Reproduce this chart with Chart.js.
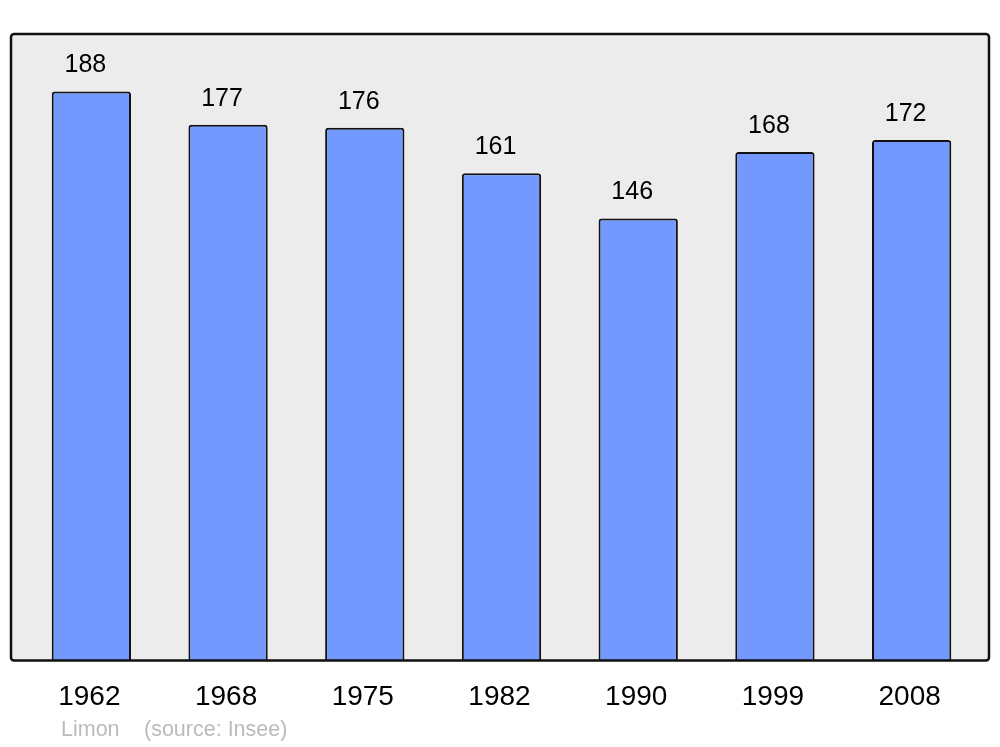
<!DOCTYPE html>
<html>
<head>
<meta charset="utf-8">
<script src="https://cdn.jsdelivr.net/npm/chart.js@4"></script>
<style>
  html, body { margin: 0; padding: 0; background: #fff; }
  #wrap { width: 1000px; height: 747px; }
</style>
</head>
<body>
<div id="wrap"><canvas id="chart" width="1000" height="747"></canvas></div>
<script>
const years = ["1962", "1968", "1975", "1982", "1990", "1999", "2008"];
const population = [188, 177, 176, 161, 146, 168, 172];
const townName = "Limon";
const sourceNote = "(source: Insee)";

const fontFamily = "'Liberation Sans', Arial, sans-serif";

// grey frame behind the bars
const framePlugin = {
  id: "frame",
  beforeDraw(chart) {
    const ctx = chart.ctx;
    const bottom = chart.chartArea.bottom;
    ctx.save();
    ctx.beginPath();
    ctx.roundRect(11, 34, 978, bottom - 34, 3);
    ctx.fillStyle = "#ececec";
    ctx.fill();
    ctx.restore();
  },
  afterDatasetsDraw(chart) {
    const ctx = chart.ctx;
    const bottom = chart.chartArea.bottom;
    ctx.save();
    ctx.beginPath();
    ctx.roundRect(11, 34, 978, bottom - 34, 3);
    ctx.lineWidth = 2.5;
    ctx.strokeStyle = "#111";
    ctx.stroke();
    ctx.restore();
  },
};

// value above every bar, and the footer line
const labelPlugin = {
  id: "labels",
  afterDraw(chart) {
    const ctx = chart.ctx;
    const meta = chart.getDatasetMeta(0);
    ctx.save();
    ctx.font = "25px " + fontFamily;
    ctx.fillStyle = "#000";
    ctx.textAlign = "center";
    ctx.textBaseline = "middle";
    meta.data.forEach((bar, i) => {
      ctx.fillText(String(population[i]), bar.x - 6, bar.y - 26);
    });
    ctx.font = "21.5px " + fontFamily;
    ctx.fillStyle = "#bbbbbb";
    ctx.textAlign = "left";
    ctx.fillText(townName, 61, 730);
    ctx.fillText(sourceNote, 144, 730);
    ctx.restore();
  },
};

new Chart(document.getElementById("chart"), {
  type: "bar",
  data: {
    labels: years,
    datasets: [
      {
        data: population,
        backgroundColor: "#7399ff",
        borderColor: "#111",
        borderWidth: 2,
        borderRadius: { topLeft: 3, topRight: 3 },
        borderSkipped: "bottom",
        categoryPercentage: 1,
        barPercentage: 0.58,
      },
    ],
  },
  options: {
    responsive: false,
    animation: false,
    layout: { padding: { left: 23, right: 20, top: 34, bottom: 21 } },
    plugins: {
      legend: { display: false },
      tooltip: { enabled: false },
    },
    scales: {
      x: {
        grid: { display: false },
        border: { display: false },
        ticks: {
          color: "#000",
          font: { family: fontFamily, size: 28 },
          padding: 12,
          labelOffset: -2,
          maxRotation: 0,
        },
      },
      y: {
        display: false,
        min: 0,
        max: 207,
      },
    },
  },
  plugins: [framePlugin, labelPlugin],
});
</script>
</body>
</html>
